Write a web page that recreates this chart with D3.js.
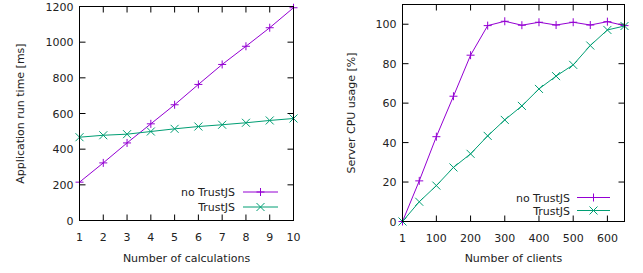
<!DOCTYPE html>
<meta charset="utf-8">
<body style="margin:0;background:#fff">
<style>
    text { font-family: "DejaVu Sans", sans-serif; font-size: 11px; fill: #222; }
    .frame { fill: none; stroke: #000; stroke-width: 1px; }
    .tick { stroke: #000; stroke-width: 1px; }
</style>
<script src="https://d3js.org/d3.v7.min.js"></script>
<script>
// left chart: run time vs number of calculations
var calcs = [1, 2, 3, 4, 5, 6, 7, 8, 9, 10];
var runNoTrust = [215, 323, 435, 542, 649, 763, 875, 977, 1081, 1193];
var runTrust = [467, 478, 484, 499, 514, 527, 537, 548, 561, 572];
var runTicks = [0, 200, 400, 600, 800, 1000, 1200];

// right chart: cpu usage vs number of clients
var clients = [1, 50, 100, 150, 200, 250, 300, 350, 400, 450, 500, 550, 600, 650];
var cpuNoTrust = [0, 20.6, 43, 63.5, 84.3, 99.3, 101.5, 99.5, 101, 99.6, 101, 99.6, 101.3, 99.3];
var cpuTrust = [0, 10, 18.2, 27.4, 34.3, 43.4, 51.5, 58.6, 67.2, 73.7, 79.4, 89.2, 97.1, 99.1];
var clientTicks = [1, 100, 200, 300, 400, 500, 600];
var cpuTicks = [0, 20, 40, 60, 80, 100];

var seriesNames = ["no TrustJS", "TrustJS"];
var colors = ["#9400d3", "#009e73"];

var svg = d3.select("body").append("svg")
    .attr("width", 643).attr("height", 273);

function plus(g, c) {
    g.append("path").attr("d", "M-4,0H4M0,-4V4").attr("stroke", c).attr("fill", "none");
}
function cross(g, c) {
    g.append("path").attr("d", "M-4,-4L4,4M-4,4L4,-4").attr("stroke", c).attr("fill", "none");
}
var markers = [plus, cross];

function drawChart(o) {
    var x = d3.scaleLinear().domain(o.xDomain).range([o.left, o.right]);
    var y = d3.scaleLinear().domain(o.yDomain).range([o.bottom, o.top]);
    var g = svg.append("g");

    // ticks, mirrored on all four sides, pointing inwards
    o.xTicks.forEach(function(t) {
        g.append("line").attr("class", "tick")
            .attr("x1", x(t)).attr("x2", x(t)).attr("y1", o.bottom).attr("y2", o.bottom - 6);
        g.append("line").attr("class", "tick")
            .attr("x1", x(t)).attr("x2", x(t)).attr("y1", o.top).attr("y2", o.top + 6);
        g.append("text").attr("x", x(t)).attr("y", o.bottom + 20)
            .attr("text-anchor", "middle").text(t);
    });
    o.yTicks.forEach(function(t) {
        g.append("line").attr("class", "tick")
            .attr("x1", o.left).attr("x2", o.left + 6).attr("y1", y(t)).attr("y2", y(t));
        g.append("line").attr("class", "tick")
            .attr("x1", o.right).attr("x2", o.right - 6).attr("y1", y(t)).attr("y2", y(t));
        g.append("text").attr("x", o.left - 6).attr("y", y(t) + 4)
            .attr("text-anchor", "end").text(t);
    });

    g.append("text").attr("x", (o.left + o.right) / 2).attr("y", 262)
        .attr("text-anchor", "middle").text(o.xLabel);
    g.append("text")
        .attr("transform", "translate(" + o.yLabelX + "," + ((o.top + o.bottom) / 2) + ") rotate(-90)")
        .attr("text-anchor", "middle").text(o.yLabel);

    var line = d3.line()
        .x(function(d) { return x(d[0]); })
        .y(function(d) { return y(d[1]); });

    o.series.forEach(function(vals, i) {
        var pts = o.xs.map(function(v, j) { return [v, vals[j]]; });
        g.append("path").datum(pts)
            .attr("d", line).attr("fill", "none").attr("stroke", colors[i]).attr("stroke-width", 1);
        pts.forEach(function(p) {
            markers[i](g.append("g").attr("transform", "translate(" + x(p[0]) + "," + y(p[1]) + ")"), colors[i]);
        });

        // legend
        var ly = o.legendY + i * o.legendGap;
        g.append("text").attr("x", o.legendText).attr("y", ly + 4)
            .attr("text-anchor", "end").text(seriesNames[i]);
        g.append("line").attr("x1", o.legendLine[0]).attr("x2", o.legendLine[1])
            .attr("y1", ly).attr("y2", ly).attr("stroke", colors[i]);
        markers[i](g.append("g").attr("transform",
            "translate(" + ((o.legendLine[0] + o.legendLine[1]) / 2) + "," + ly + ")"), colors[i]);
    });

    g.append("rect").attr("class", "frame")
        .attr("x", o.left).attr("y", o.top)
        .attr("width", o.right - o.left).attr("height", o.bottom - o.top);
}

drawChart({
    left: 79.5, right: 293.5, top: 6.5, bottom: 220.5,
    xDomain: [1, 10], yDomain: [0, 1200],
    xTicks: calcs, yTicks: runTicks,
    xs: calcs, series: [runNoTrust, runTrust],
    xLabel: "Number of calculations", yLabel: "Application run time [ms]", yLabelX: 24,
    legendY: 192, legendGap: 15, legendText: 235, legendLine: [243, 278]
});

drawChart({
    left: 402.5, right: 624.5, top: 4.5, bottom: 221.5,
    xDomain: [1, 650], yDomain: [0, 110],
    xTicks: clientTicks, yTicks: cpuTicks,
    xs: clients, series: [cpuNoTrust, cpuTrust],
    xLabel: "Number of clients", yLabel: "Server CPU usage [%]", yLabelX: 355,
    legendY: 197.5, legendGap: 13, legendText: 570, legendLine: [577, 610]
});
</script>
</body>
